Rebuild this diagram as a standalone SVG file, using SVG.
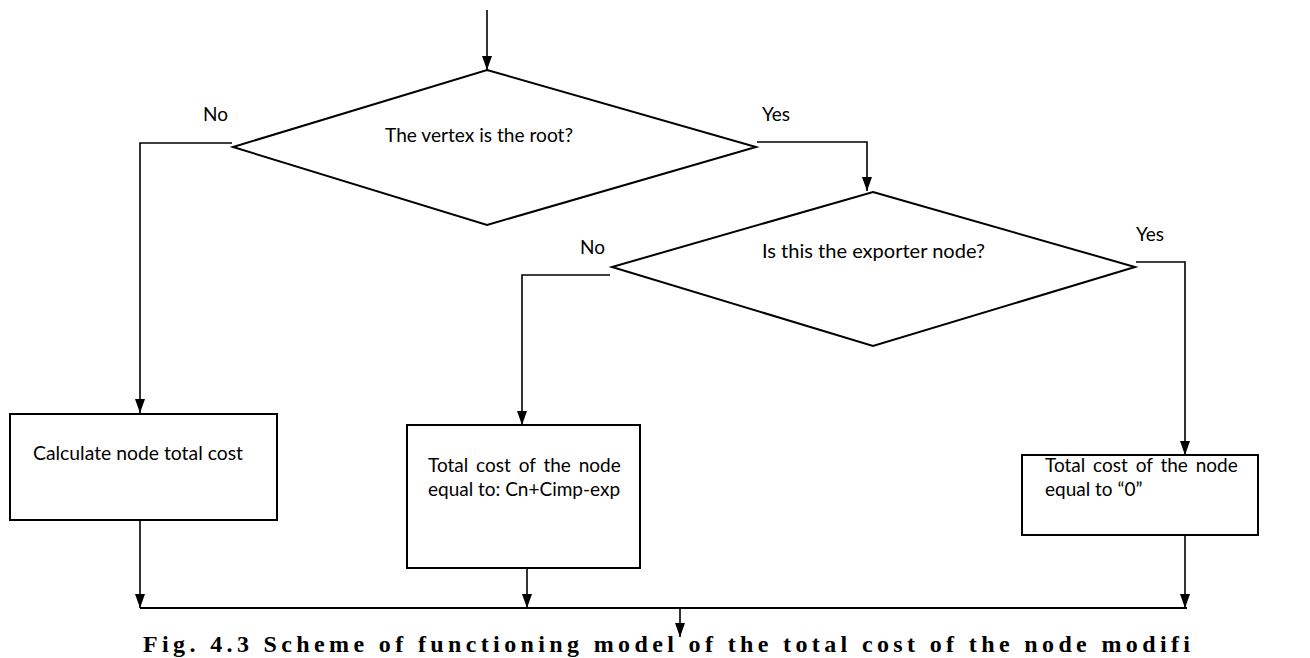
<svg xmlns="http://www.w3.org/2000/svg" width="1310" height="658" viewBox="0 0 1310 658">
<style>
.shape{fill:#fff;stroke:#000;stroke-width:2}
.conn{fill:none;stroke:#000;stroke-width:1.6}
.t{font-family:Lato,"Open Sans","Liberation Sans",sans-serif;font-size:19px;fill:#000}
.j{word-spacing:3px}
.cap{font-family:"Liberation Serif","Times New Roman",serif;font-size:24px;font-weight:bold;fill:#000}
</style>
<defs>
<marker id="arr" viewBox="0 0 14 10" refX="14" refY="5" markerWidth="14" markerHeight="10" markerUnits="userSpaceOnUse" orient="auto">
<path d="M0,0 L14,5 L0,10 z" fill="#000"/>
</marker>
</defs>
<rect width="1310" height="658" fill="#fff"/>
<g id="connectors">
<line class="conn" x1="487" y1="10" x2="487" y2="70" marker-end="url(#arr)"/>
<polyline class="conn" points="232,143 140,143 140,413" marker-end="url(#arr)"/>
<polyline class="conn" points="757,142 867,142 867,191" marker-end="url(#arr)"/>
<polyline class="conn" points="610,275 522,275 522,425" marker-end="url(#arr)"/>
<polyline class="conn" points="1136,262 1185,262 1185,455" marker-end="url(#arr)"/>
<line class="conn" x1="140" y1="520" x2="140" y2="608" marker-end="url(#arr)"/>
<line class="conn" x1="527" y1="568" x2="527" y2="608" marker-end="url(#arr)"/>
<line class="conn" x1="1185" y1="535" x2="1185" y2="608" marker-end="url(#arr)"/>
<line class="conn" x1="140" y1="608" x2="1187" y2="608" style="stroke-width:2"/>
<line class="conn" x1="680" y1="608" x2="680" y2="637" marker-end="url(#arr)"/>
<text class="t" x="203" y="121">No</text>
<text class="t" x="762" y="121">Yes</text>
<text class="t" x="580" y="254">No</text>
<text class="t" x="1136" y="241">Yes</text>
</g>
<g id="decision-root">
<polygon class="shape" points="487,70 756,147 487,225 233,147"/>
<text class="t" x="385" y="142" textLength="188" lengthAdjust="spacingAndGlyphs">The vertex is the root?</text>
</g>
<g id="decision-exporter">
<polygon class="shape" points="873,192 1135,267 873,346 612,267"/>
<text class="t" x="762" y="258" textLength="223" lengthAdjust="spacingAndGlyphs">Is this the exporter node?</text>
</g>
<g id="box-calc">
<rect class="shape" x="10" y="414" width="267" height="106"/>
<text class="t" x="33" y="460" textLength="210" lengthAdjust="spacingAndGlyphs">Calculate node total cost</text>
</g>
<g id="box-cn">
<rect class="shape" x="407" y="425" width="233" height="143"/>
<text class="t j" x="428" y="472">Total cost of the node</text>
<text class="t" x="428" y="496">equal to: Cn+Cimp-exp</text>
</g>
<g id="box-zero">
<rect class="shape" x="1022" y="455" width="236" height="80"/>
<text class="t j" x="1045" y="472">Total cost of the node</text>
<text class="t" x="1045" y="496">equal to “0”</text>
</g>
<text class="cap" x="143" y="652" textLength="1047" lengthAdjust="spacing">Fig. 4.3 Scheme of functioning model of the total cost of the node modifi</text>
</svg>
